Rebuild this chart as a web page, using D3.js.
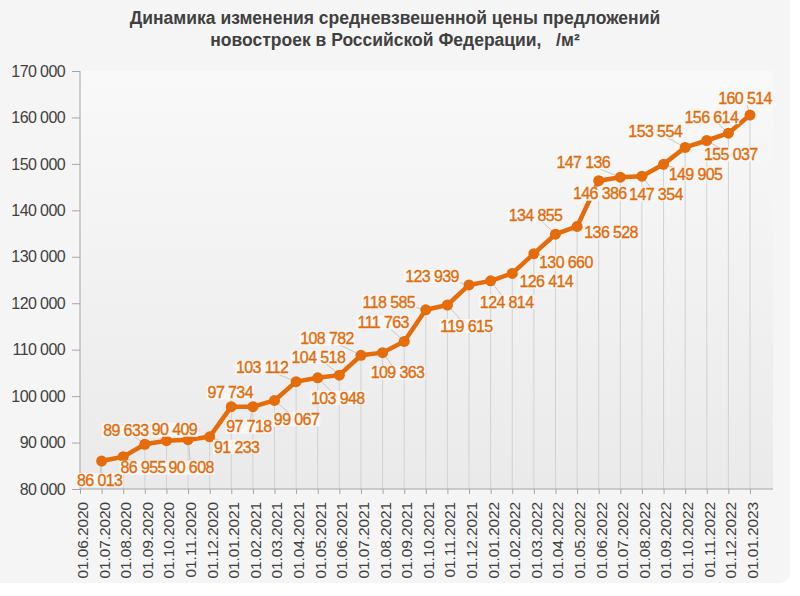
<!DOCTYPE html>
<html lang="ru">
<head>
  <meta charset="UTF-8">
  <title>Динамика цены предложений новостроек</title>
  <script src="https://d3js.org/d3.v7.min.js"></script>
  <style>
    body { margin: 0; background: #fff; font-family: "Liberation Sans", Arial, sans-serif; }
    .title { font-size: 17.5px; font-weight: bold; fill: #404040; text-anchor: middle; white-space: pre; }
    .axis text { fill: #404040; font-family: "Liberation Sans", Arial, sans-serif; }
    .y-axis text { font-size: 16px; letter-spacing: -0.6px; }
    .x-axis text { font-size: 15.5px; letter-spacing: -0.1px; }
    .axis path, .axis line { stroke: #a6a6a6; }
    .lbl { font-size: 16px; letter-spacing: -0.6px; fill: #e36c09; stroke: #e36c09; stroke-width: 0.35; text-anchor: middle; }
  </style>
</head>
<body>
<div id="chart"></div>
<script>
const dates = ["01.06.2020","01.07.2020","01.08.2020","01.09.2020","01.10.2020","01.11.2020","01.12.2020",
  "01.01.2021","01.02.2021","01.03.2021","01.04.2021","01.05.2021","01.06.2021","01.07.2021","01.08.2021",
  "01.09.2021","01.10.2021","01.11.2021","01.12.2021","01.01.2022","01.02.2022","01.03.2022","01.04.2022",
  "01.05.2022","01.06.2022","01.07.2022","01.08.2022","01.09.2022","01.10.2022","01.11.2022","01.12.2022",
  "01.01.2023"];
const prices = [null, 86013, 86955, 89633, 90409, 90608, 91233,
  97734, 97718, 99067, 103112, 103948, 104518, 108782, 109363,
  111763, 118585, 119615, 123939, 124814, 126414, 130660, 134855,
  136528, 146386, 147136, 147354, 149905, 153554, 155037, 156614,
  160514];
const yTicks = [80000, 90000, 100000, 110000, 120000, 130000, 140000, 150000, 160000, 170000];
const titleLines = ["Динамика изменения средневзвешенной цены предложений",
  "новостроек в Российской Федерации,   /м²"];
// label placement relative to its point (px), as moved by hand in the original
const labelShift = [null, [-2,19],[20,11],[-19,-14],[8,-11],[3,28],[27,10],
  [-1,-14],[-4,20],[22,19],[-34,-14],[20,20],[-21,-18],[-34,-17],[15,20],
  [-21,-19],[-37,-8],[19,21],[-37,-9],[16,21],[34,8],[32,9],[-20,-19],
  [34,6],[1,13],[-37,-15],[14,18],[32,10],[-30,-16],[24,14],[-17,-16],
  [-5,-17]];

const W = 800, H = 596;
const margin = {top: 71, right: 50, bottom: 107, left: 80};
const svg = d3.select("#chart").append("svg").attr("width", W).attr("height", H);

const defs = svg.append("defs");
const grad = defs.append("linearGradient").attr("id", "plotbg").attr("x1", 0).attr("y1", 0).attr("x2", 0).attr("y2", 1);
grad.append("stop").attr("offset", "0%").attr("stop-color", "#f9f9f9");
grad.append("stop").attr("offset", "100%").attr("stop-color", "#eaeaea");

svg.append("rect").attr("x", -10).attr("y", -10).attr("width", 800).attr("height", 593)
  .attr("rx", 10).attr("fill", "#f5f5f5");

const x = d3.scalePoint().domain(dates).range([margin.left, 750]);
const y = d3.scaleLinear().domain([80000, 170000]).range([489, margin.top]);

svg.append("rect").attr("x", margin.left).attr("y", margin.top)
  .attr("width", 773 - margin.left).attr("height", 489 - margin.top).attr("fill", "url(#plotbg)");

svg.selectAll(".title").data(titleLines).enter().append("text")
  .attr("class", "title").attr("xml:space", "preserve")
  .attr("x", 395).attr("y", (d, i) => 24 + i * 22).text(d => d);

const pts = dates.map((d, i) => ({date: d, v: prices[i], s: labelShift[i]})).filter(p => p.v != null);

// drop lines
svg.selectAll(".drop").data(pts).enter().append("line")
  .attr("x1", d => x(d.date)).attr("x2", d => x(d.date))
  .attr("y1", d => y(d.v)).attr("y2", 489)
  .attr("stroke", "#d2d2d2").attr("stroke-width", 1);

// axes
const fmt = v => d3.format(",")(v).replace(/,/g, " ");
const yAxis = svg.append("g").attr("class", "axis y-axis").attr("transform", `translate(${margin.left},0)`)
  .call(d3.axisLeft(y).tickValues(yTicks).tickSize(8).tickPadding(7).tickFormat(fmt));
yAxis.select(".domain").attr("d", `M0,${y(80000)}V${y(170000)}`);

const xAxis = svg.append("g").attr("class", "axis x-axis").attr("transform", "translate(0,489)")
  .call(d3.axisBottom(x).tickSize(5).tickSizeOuter(0));
xAxis.select(".domain").attr("d", `M${margin.left},0H773`);
xAxis.selectAll("text")
  .attr("transform", "rotate(-90)")
  .attr("x", -13).attr("y", 2).attr("dy", "0.35em")
  .style("text-anchor", "end");

// leader lines
svg.selectAll(".leader").data(pts).enter().append("line")
  .attr("x1", d => x(d.date)).attr("y1", d => y(d.v))
  .attr("x2", d => x(d.date) + d.s[0]).attr("y2", d => y(d.v) + d.s[1])
  .attr("stroke", "#c8c8c8").attr("stroke-width", 1);

// series line
const line = d3.line().x(d => x(d.date)).y(d => y(d.v));
svg.append("path").datum(pts).attr("d", line)
  .attr("fill", "none").attr("stroke", "#e46c0a").attr("stroke-width", 4.5).attr("stroke-linejoin", "round");
svg.selectAll(".dot").data(pts).enter().append("circle")
  .attr("cx", d => x(d.date)).attr("cy", d => y(d.v)).attr("r", 5.5).attr("fill", "#e46c0a");

// data labels with light backing
const lg = svg.selectAll(".lblg").data(pts).enter().append("g")
  .attr("transform", d => `translate(${x(d.date) + d.s[0]},${y(d.v) + d.s[1]})`);
const bg = lg.append("rect").attr("fill", "#f7f7f7");
const tx = lg.append("text").attr("class", "lbl").attr("dy", "0.36em").text(d => fmt(d.v));
tx.each(function () {
  const w = this.getComputedTextLength();
  d3.select(this.previousSibling).attr("x", -w / 2 - 1).attr("y", -7).attr("width", w + 2).attr("height", 14);
});
</script>
</body>
</html>
